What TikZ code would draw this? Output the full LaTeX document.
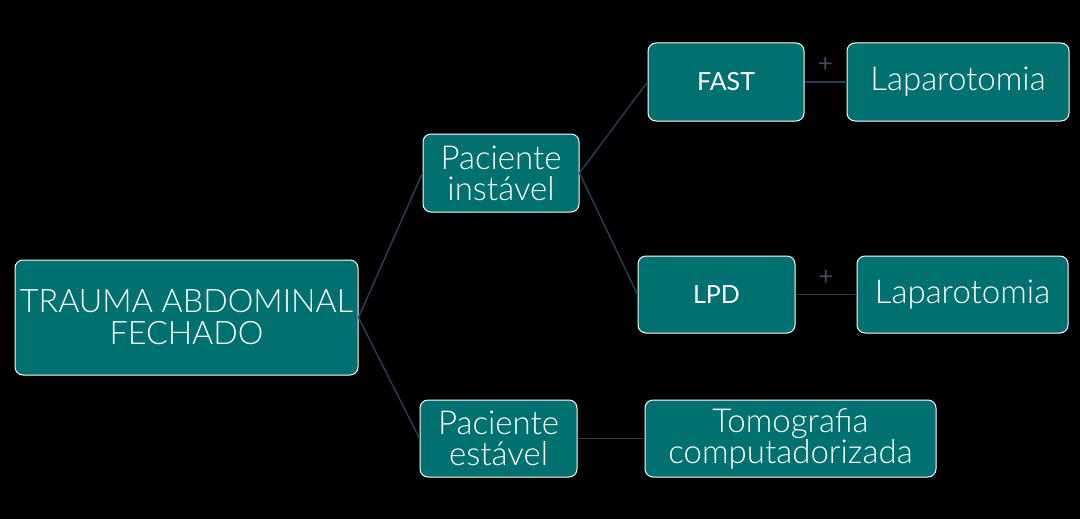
\documentclass[tikz,border=0pt]{standalone}
\usepackage{fontspec}
\setmainfont{Lato Light}
\newfontfamily\regfont{Lato}
\definecolor{teal1}{RGB}{0,112,112}
\definecolor{conn}{RGB}{46,58,84}
\definecolor{plusc}{RGB}{62,74,100}
\begin{document}
\begin{tikzpicture}[x=1pt,y=-1pt,
  box/.style={draw=white, line width=1pt, fill=teal1, rounded corners=8pt, text=white,
    align=center, inner sep=0pt, font=\fontsize{33}{31}\selectfont},
  small/.style={font=\regfont\fontsize{25}{27}\selectfont},
  link/.style={draw=conn, line width=1.5pt},
  plus/.style={text=plusc, font=\regfont\fontsize{26}{26}\selectfont}]
\fill[black] (0,0) rectangle (1080,519);
\useasboundingbox (0,0) rectangle (1080,519);
\node[box, font=\fontsize{32.3}{32}\selectfont, minimum width=343pt, minimum height=115pt] (trauma) at (186.5,317.5) {TRAUMA ABDOMINAL\\FECHADO};
\node[box, minimum width=156pt, minimum height=78pt] (pinst) at (501,173) {Paciente\\instável};
\node[box, minimum width=157pt, minimum height=77pt] (pest) at (498.5,438.5) {Paciente\\estável};
\node[box, small, minimum width=156pt, minimum height=78pt] (fast) at (726,82) {FAST};
\node[box, minimum width=222pt, minimum height=78pt] (lap1) at (958,82) {Laparotomia};
\node[box, small, minimum width=157pt, minimum height=77pt] (lpd) at (716.5,294.5) {LPD};
\node[box, minimum width=211pt, minimum height=77pt] (lap2) at (962.5,294.5) {Laparotomia};
\node[box, minimum width=291pt, minimum height=77pt] (tomo) at (790.5,438.5) {Tomografia\\computadorizada};
\draw[link] (trauma.east) -- (pinst.west);
\draw[link] (trauma.east) -- (pest.west);
\draw[link] (pinst.east) -- (fast.west);
\draw[link] (pinst.east) -- (lpd.west);
\draw[link] (fast.east) -- node[plus, above=5pt] (p1) {+} (lap1.west);
\draw[link] (lpd.east) -- node[plus, above=5pt] (p2) {+} (lap2.west);
\draw[link] (pest.east) -- (tomo.west);
\end{tikzpicture}
\end{document}
